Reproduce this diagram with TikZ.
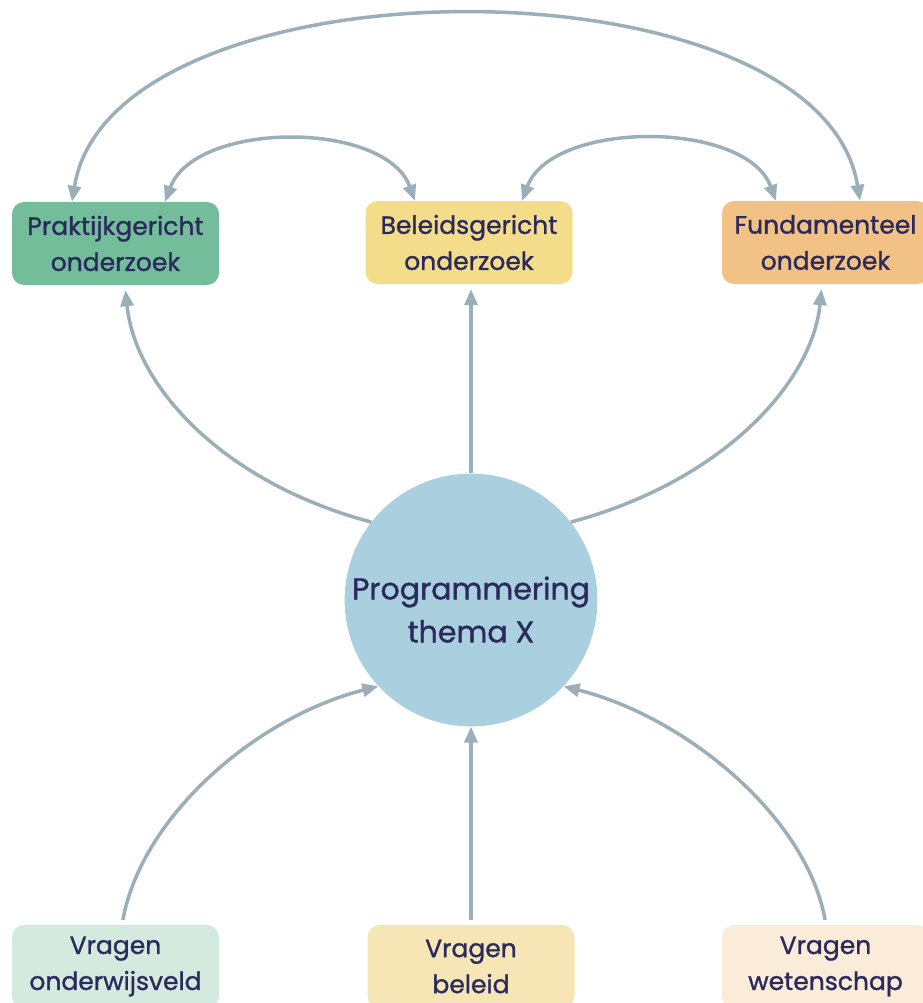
\documentclass[tikz,border=0pt]{standalone}
\usepackage{fontspec}
\setmainfont{Poppins}[FakeBold=1.2]
\usetikzlibrary{arrows.meta}

\definecolor{txtblue}{RGB}{43,42,92}
\definecolor{linegrey}{RGB}{155,175,185}
\definecolor{praktgreen}{RGB}{115,189,154}
\definecolor{beleidyellow}{RGB}{243,221,138}
\definecolor{fundorange}{RGB}{242,193,133}
\definecolor{vondgreen}{RGB}{213,234,223}
\definecolor{vbelyellow}{RGB}{246,230,181}
\definecolor{vwetorange}{RGB}{251,235,217}
\definecolor{progblue}{RGB}{170,208,223}

\begin{document}
\begin{tikzpicture}[x=1pt,y=1pt,yscale=-1,
  onderzoek/.style={rectangle,rounded corners=12pt,minimum width=207pt,minimum height=83pt,
    inner sep=0pt,align=center,text=txtblue,font=\fontsize{25}{36}\selectfont},
  pijl/.style={draw=linegrey,line width=3.5pt,-{Triangle[length=16pt,width=13pt]}},
  tweepijl/.style={pijl,{Triangle[length=16pt,width=13pt]}-{Triangle[length=16pt,width=13pt]}}]
%set diagram size to the 922 x 1003 frame
\useasboundingbox (0,0) rectangle (922,1003);

%Shape: research boxes
\node[onderzoek,fill=praktgreen] (prak) at (115.5,243.5) {Praktijkgericht\\onderzoek};
\node[onderzoek,fill=beleidyellow] (bel) at (469,242.5) {Beleidsgericht\\onderzoek};
\node[onderzoek,fill=fundorange] (fund) at (825.5,242.5) {Fundamenteel\\onderzoek};

%Shape: Circle
\node[circle,fill=progblue,minimum size=250pt,inner sep=0pt,align=center,text=txtblue,
  font=\fontsize{30}{43}\selectfont] (prog) at (471,600) {\rule{0pt}{42pt}Programmering\\thema X};

%Shape: question boxes
\node[onderzoek,fill=vondgreen] (vond) at (115.5,966.5) {Vragen\\onderwijsveld};
\node[onderzoek,fill=vbelyellow] (vbel) at (471,966.5) {Vragen\\beleid};
\node[onderzoek,fill=vwetorange] (vwet) at (825.5,966.5) {Vragen\\wetenschap};

%Curves: top arcs
\draw[tweepijl] ([xshift=-43.5pt]prak.north) .. controls +(40,-248) and +(-40,-248) .. ([xshift=34.5pt]fund.north);
\draw[tweepijl] ([xshift=49.5pt]prak.north) .. controls +(30,-81) and +(-30,-81) .. ([xshift=-54pt]bel.north);
\draw[tweepijl] ([xshift=53pt]bel.north) .. controls +(30,-81) and +(-30,-81) .. ([xshift=-49.5pt]fund.north);

%Curves: circle to research boxes
\draw[pijl,shorten >=5pt] (prog.142) .. controls +(-150,-40) and +(10,100) .. ([xshift=9.5pt]prak.south);
\draw[pijl,shorten >=5pt] (prog.north) -- (prog.north |- bel.south);
\draw[pijl,shorten >=5pt] (prog.38) .. controls +(150,-40) and +(-10,100) .. ([xshift=-3.5pt]fund.south);

%Curves: questions to circle
\draw[pijl,shorten <=5pt] ([xshift=6.5pt]vond.north) .. controls +(20,-110) and +(-120,30) .. (prog.223);
\draw[pijl,shorten <=5pt] (vbel.north) -- (prog.south);
\draw[pijl,shorten <=5pt] ([xshift=0.5pt]vwet.north) .. controls +(-20,-110) and +(120,30) .. (prog.317);

\end{tikzpicture}
\end{document}
